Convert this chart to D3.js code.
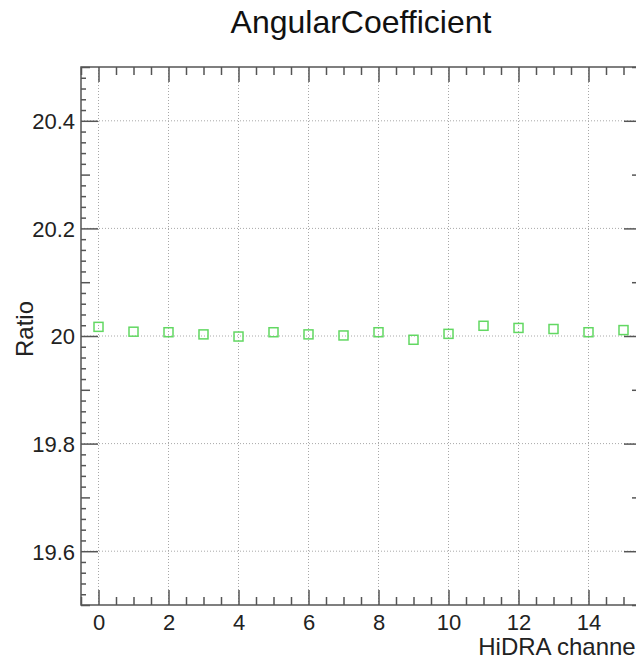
<!DOCTYPE html>
<html>
<head>
<meta charset="utf-8">
<script src="https://cdn.jsdelivr.net/npm/d3@7"></script>
<style>
body { margin: 0; background: #fff; overflow: hidden; }
svg { display: block; font-family: "Liberation Sans", Arial, Helvetica, sans-serif; }
.tick text { fill: #222; }
</style>
</head>
<body>
<div id="chart"></div>
<script>
// channel numbers and fitted ratio per channel
const channels = [0, 1, 2, 3, 4, 5, 6, 7, 8, 9, 10, 11, 12, 13, 14, 15];
const ratios = [20.017, 20.008, 20.007, 20.003, 19.999, 20.007, 20.003, 20.001,
	20.007, 19.993, 20.004, 20.019, 20.015, 20.013, 20.007, 20.011];

const xMajor = [0, 2, 4, 6, 8, 10, 12, 14];
const yMajor = [19.6, 19.8, 20, 20.2, 20.4];

const title = 'AngularCoefficient';
const xTitle = 'HiDRA channel';
const yTitle = 'Ratio';

const width = 636, height = 660;
const frame = {left: 81, top: 67, right: 641, bottom: 605};

const svg = d3.select('#chart')
.append('svg')
.attr('width', width)
.attr('height', height)

let x = d3.scaleLinear()
.domain([-0.5, 15.5])
.range([frame.left, frame.right])

let y = d3.scaleLinear()
.domain([19.5, 20.5])
.range([frame.bottom, frame.top])

// minor tick positions
const xMinor = d3.range(-1, 32).map(d => d / 2).filter(d => d >= -0.5 && d <= 15.5 && d % 2 !== 0);
const ySteps = d3.range(0, 51).map(i => +(19.5 + i * 0.02).toFixed(2));
const ySecond = ySteps.filter(d => Math.abs(d * 10 - Math.round(d * 10)) < 1e-6 && yMajor.indexOf(d) < 0);
const yThird = ySteps.filter(d => ySecond.indexOf(d) < 0 && yMajor.indexOf(d) < 0);

// grid
const grid = svg.append('g').attr('class', 'grid')
.attr('stroke', '#a8a8a8')
.attr('stroke-width', 1)
.attr('stroke-dasharray', '1,2')

grid.selectAll('.gx')
.data(xMajor)
.enter()
.append('line')
.attr('x1', d => x(d)).attr('x2', d => x(d))
.attr('y1', frame.top).attr('y2', frame.bottom)

grid.selectAll('.gy')
.data(yMajor)
.enter()
.append('line')
.attr('y1', d => y(d)).attr('y2', d => y(d))
.attr('x1', frame.left).attr('x2', frame.right)

// axes: ticks pointing inwards, on all four sides
const axisColor = '#555';

const addAxis = (axis, tx, ty, labels) => {
	let g = svg.append('g')
	.attr('transform', `translate(${tx},${ty})`)
	.call(axis)

	g.select('.domain').remove()
	g.selectAll('line').attr('stroke', axisColor).attr('stroke-width', 1.5)
	g.selectAll('text').style('font-size', '22px')
	if(!labels) g.selectAll('text').remove()
	return g
}

// bottom
addAxis(d3.axisBottom(x).tickValues(xMajor).tickSize(-15).tickFormat(d => d), 0, frame.bottom, true)
.selectAll('text').attr('y', 9)
addAxis(d3.axisBottom(x).tickValues(xMinor).tickSize(-8).tickFormat(''), 0, frame.bottom, false)
// top
addAxis(d3.axisTop(x).tickValues(xMajor).tickSize(-15), 0, frame.top, false)
addAxis(d3.axisTop(x).tickValues(xMinor).tickSize(-8), 0, frame.top, false)

// left
addAxis(d3.axisLeft(y).tickValues(yMajor).tickSize(-17).tickFormat(d => +d.toFixed(1)), frame.left, 0, true)
.selectAll('text').attr('x', -6).attr('dy', '0.36em')
addAxis(d3.axisLeft(y).tickValues(ySecond).tickSize(-9), frame.left, 0, false)
addAxis(d3.axisLeft(y).tickValues(yThird).tickSize(-5), frame.left, 0, false)
// right
addAxis(d3.axisRight(y).tickValues(yMajor).tickSize(-17), frame.right, 0, false)
addAxis(d3.axisRight(y).tickValues(ySecond).tickSize(-9), frame.right, 0, false)
addAxis(d3.axisRight(y).tickValues(yThird).tickSize(-5), frame.right, 0, false)

// frame
svg.append('rect')
.attr('x', frame.left)
.attr('y', frame.top)
.attr('width', frame.right - frame.left)
.attr('height', frame.bottom - frame.top)
.attr('fill', 'none')
.attr('stroke', axisColor)
.attr('stroke-width', 1.5)

// markers
const ms = 9;
svg.append('g')
.selectAll('rect')
.data(channels)
.enter()
.append('rect')
.attr('x', (d, i) => x(d) - ms / 2)
.attr('y', (d, i) => y(ratios[i]) - ms / 2)
.attr('width', ms)
.attr('height', ms)
.attr('fill', 'none')
.attr('stroke', '#62d862')
.attr('stroke-width', 1.5)

// texts
svg.append('text')
.attr('x', (frame.left + frame.right) / 2)
.attr('y', 33)
.attr('text-anchor', 'middle')
.style('font-size', '32px')
.style('fill', '#111')
.text(title)

svg.append('text')
.attr('x', frame.right)
.attr('y', 655)
.attr('text-anchor', 'end')
.style('font-size', '24px')
.style('fill', '#222')
.text(xTitle)

svg.append('text')
.attr('transform', `translate(33,${(frame.top + frame.bottom) / 2 - 7}) rotate(-90)`)
.attr('text-anchor', 'middle')
.style('font-size', '24px')
.style('fill', '#222')
.text(yTitle)
</script>
</body>
</html>
